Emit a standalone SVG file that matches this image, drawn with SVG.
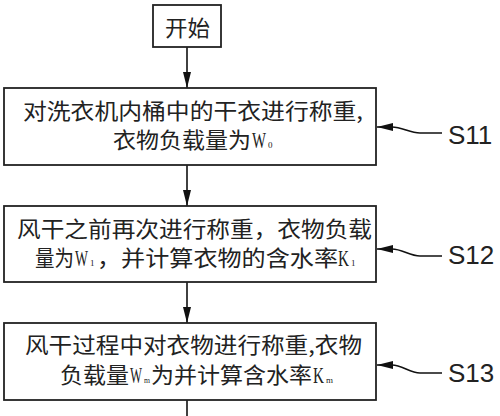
<svg xmlns="http://www.w3.org/2000/svg" width="500" height="416" viewBox="0 0 500 416">
<defs>
<marker id="ah" viewBox="0 0 16 8" refX="16" refY="4" markerWidth="16" markerHeight="8" orient="auto" markerUnits="userSpaceOnUse">
<path d="M0,0 L16,4 L0,8 z" fill="#111"/>
</marker>
<style>
.box{fill:#fff;stroke:#222;stroke-width:1.8}
.cn{font-family:"Noto Sans CJK SC","Noto Sans CJK JP",sans-serif;font-size:22px;fill:#222}
.lat{font-family:"Liberation Serif",serif;font-size:23px;fill:#222}
.sub{font-family:"Liberation Serif",serif;font-size:9px;fill:#222}
.lbl{font-family:"Liberation Sans",Arial,sans-serif;font-size:26px;fill:#222}
.ln{fill:none;stroke:#111;stroke-width:1.6}
</style>
</defs>
<rect width="500" height="416" fill="#fff"/>
<g id="connectors">
<line class="ln" x1="187" y1="47" x2="187" y2="88" marker-end="url(#ah)"/>
<line class="ln" x1="187" y1="165" x2="187" y2="206" marker-end="url(#ah)"/>
<line class="ln" x1="187" y1="282" x2="187" y2="323" marker-end="url(#ah)"/>
<line class="ln" x1="187" y1="400" x2="187" y2="416"/>
<path class="ln" d="M442,133 L420,133 C410,133 402,127 392,127 L377,127" marker-end="url(#ah)"/>
<path class="ln" d="M442,256 L420,256 C410,256 402,249 392,249 L377,249" marker-end="url(#ah)"/>
<path class="ln" d="M442,373 L420,373 C410,373 402,365 392,365 L377,365" marker-end="url(#ah)"/>
</g>
<g id="start">
<rect class="box" x="153" y="5" width="68" height="42"/>
<text class="cn" x="165" y="36" textLength="45" lengthAdjust="spacingAndGlyphs">开始</text>
</g>
<g id="s11">
<rect class="box" x="4" y="88" width="372" height="77"/>
<text class="cn" x="23" y="119" textLength="340" lengthAdjust="spacingAndGlyphs">对洗衣机内桶中的干衣进行称重,</text>
<text class="cn" y="148"><tspan x="113" textLength="138" lengthAdjust="spacingAndGlyphs">衣物负载量为</tspan><tspan class="lat" x="252" textLength="14" lengthAdjust="spacingAndGlyphs">W</tspan><tspan class="sub" x="268">0</tspan></text>
</g>
<g id="s12">
<rect class="box" x="4" y="206" width="372" height="76"/>
<text class="cn" x="17" y="237" textLength="355" lengthAdjust="spacingAndGlyphs">风干之前再次进行称重，衣物负载</text>
<text class="cn" y="266"><tspan x="35" textLength="39" lengthAdjust="spacingAndGlyphs">量为</tspan><tspan class="lat" x="75" textLength="13" lengthAdjust="spacingAndGlyphs">W</tspan><tspan class="sub" x="90">1</tspan><tspan x="97" textLength="241" lengthAdjust="spacingAndGlyphs">，并计算衣物的含水率</tspan><tspan class="lat" x="338" textLength="11" lengthAdjust="spacingAndGlyphs">K</tspan><tspan class="sub" x="351">1</tspan></text>
</g>
<g id="s13">
<rect class="box" x="4" y="323" width="372" height="77"/>
<text class="cn" x="25" y="353" textLength="337" lengthAdjust="spacingAndGlyphs">风干过程中对衣物进行称重,衣物</text>
<text class="cn" y="383"><tspan x="60" textLength="69" lengthAdjust="spacingAndGlyphs">负载量</tspan><tspan class="lat" x="130" textLength="12" lengthAdjust="spacingAndGlyphs">W</tspan><tspan class="sub" x="144" textLength="6" lengthAdjust="spacingAndGlyphs">m</tspan><tspan x="151" textLength="161" lengthAdjust="spacingAndGlyphs">为并计算含水率</tspan><tspan class="lat" x="313" textLength="11" lengthAdjust="spacingAndGlyphs">K</tspan><tspan class="sub" x="326" textLength="7" lengthAdjust="spacingAndGlyphs">m</tspan></text>
</g>
<g id="labels">
<text class="lbl" x="448" y="144">S11</text>
<text class="lbl" x="448" y="264">S12</text>
<text class="lbl" x="448" y="382">S13</text>
</g>
</svg>
